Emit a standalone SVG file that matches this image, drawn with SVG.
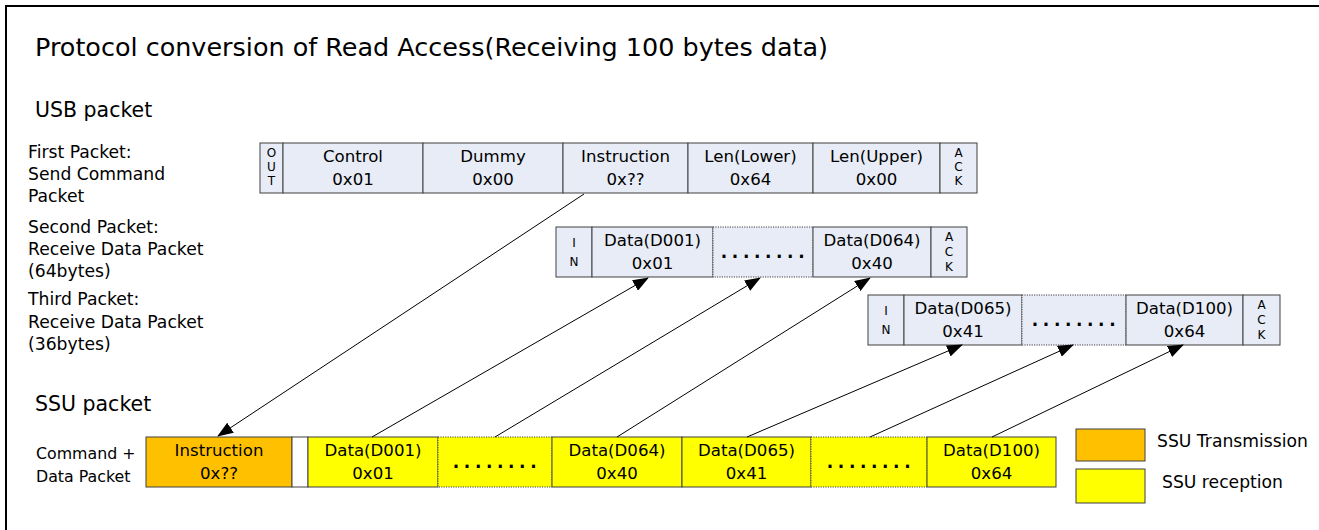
<svg xmlns="http://www.w3.org/2000/svg" width="1319" height="530" viewBox="0 0 1319 530">
<style>
  text { font-family: "DejaVu Sans", "Liberation Sans", sans-serif; fill: #000; }
  .title { font-size: 25px; }
  .head { font-size: 20.5px; }
  .lbl { font-size: 17.2px; }
  .lbl2 { font-size: 15.8px; }
  .leg { font-size: 17.2px; }
  .cell { font-size: 16.6px; text-anchor: middle; }
  .vt { font-size: 12px; text-anchor: middle; }
  .dots { font-size: 17px; font-weight: bold; text-anchor: middle; letter-spacing: 4.6px; }
  .usb { fill: #E7ECF7; stroke: #404040; stroke-width: 1; }
  .usbd { fill: #E7ECF7; stroke: #404040; stroke-width: 1; stroke-dasharray: 1.2 1.2; }
  .tx { fill: #FFC000; stroke: #404040; stroke-width: 1; }
  .rx { fill: #FFFF00; stroke: #404040; stroke-width: 1; }
  .rxd { fill: #FFFF00; stroke: #404040; stroke-width: 1; stroke-dasharray: 1.2 1.2; }
  .gap { fill: #FFFFFF; stroke: #404040; stroke-width: 1; }
  .conn line { stroke: #000; stroke-width: 1; marker-end: url(#arr); }
</style>
<defs>
  <marker id="arr" markerUnits="userSpaceOnUse" markerWidth="16" markerHeight="12" refX="15" refY="6" orient="auto">
    <path d="M0,0 L16,6 L0,12 Z" fill="#000"/>
  </marker>
</defs>
<rect x="0" y="0" width="1319" height="530" fill="#fff"/>
<path d="M6,531 V6 H1320" fill="none" stroke="#000" stroke-width="2"/>

<text class="title" x="35" y="56" textLength="793" lengthAdjust="spacingAndGlyphs">Protocol conversion of Read Access(Receiving 100 bytes data)</text>
<text class="head" x="35" y="117">USB packet</text>
<text class="head" x="35" y="411">SSU packet</text>

<g id="label-first">
  <text class="lbl" x="28" y="158">First Packet:</text>
  <text class="lbl" x="28" y="180">Send Command</text>
  <text class="lbl" x="28" y="202">Packet</text>
</g>
<g id="label-second">
  <text class="lbl" x="28" y="233">Second Packet:</text>
  <text class="lbl" x="28" y="255">Receive Data Packet</text>
  <text class="lbl" x="28" y="277">(64bytes)</text>
</g>
<g id="label-third">
  <text class="lbl" x="28" y="305">Third Packet:</text>
  <text class="lbl" x="28" y="328">Receive Data Packet</text>
  <text class="lbl" x="28" y="350">(36bytes)</text>
</g>
<g id="label-ssu">
  <text class="lbl2" x="36" y="459">Command +</text>
  <text class="lbl2" x="36" y="482">Data Packet</text>
</g>

<g id="first-packet">
  <rect class="usb" x="260" y="143" width="23" height="50"/>
  <text class="vt" x="271.5" y="157">O</text>
  <text class="vt" x="271.5" y="171">U</text>
  <text class="vt" x="271.5" y="185">T</text>
  <rect class="usb" x="283" y="143" width="140" height="50"/>
  <text class="cell" x="353" y="162">Control</text>
  <text class="cell" x="353" y="185">0x01</text>
  <rect class="usb" x="423" y="143" width="140" height="50"/>
  <text class="cell" x="493" y="162">Dummy</text>
  <text class="cell" x="493" y="185">0x00</text>
  <rect class="usb" x="563" y="143" width="125" height="50"/>
  <text class="cell" x="625.5" y="162">Instruction</text>
  <text class="cell" x="625.5" y="185">0x??</text>
  <rect class="usb" x="688" y="143" width="125" height="50"/>
  <text class="cell" x="750.5" y="162">Len(Lower)</text>
  <text class="cell" x="750.5" y="185">0x64</text>
  <rect class="usb" x="813" y="143" width="127" height="50"/>
  <text class="cell" x="876.5" y="162">Len(Upper)</text>
  <text class="cell" x="876.5" y="185">0x00</text>
  <rect class="usb" x="940" y="143" width="37" height="50"/>
  <text class="vt" x="958.5" y="157">A</text>
  <text class="vt" x="958.5" y="171">C</text>
  <text class="vt" x="958.5" y="185">K</text>
</g>

<g id="second-packet">
  <rect class="usb" x="556" y="227" width="36" height="50"/>
  <text class="vt" x="574" y="247">I</text>
  <text class="vt" x="574" y="266">N</text>
  <rect class="usb" x="592" y="227" width="121" height="50"/>
  <text class="cell" x="652.5" y="246">Data(D001)</text>
  <text class="cell" x="652.5" y="269">0x01</text>
  <rect class="usbd" x="713" y="227" width="100" height="50"/>
  <text class="dots" x="765" y="258">........</text>
  <rect class="usb" x="813" y="227" width="118" height="50"/>
  <text class="cell" x="872" y="246">Data(D064)</text>
  <text class="cell" x="872" y="269">0x40</text>
  <rect class="usb" x="931" y="227" width="36" height="50"/>
  <text class="vt" x="949" y="241">A</text>
  <text class="vt" x="949" y="256">C</text>
  <text class="vt" x="949" y="271">K</text>
</g>

<g id="third-packet">
  <rect class="usb" x="868" y="295" width="36" height="50"/>
  <text class="vt" x="886" y="315">I</text>
  <text class="vt" x="886" y="334">N</text>
  <rect class="usb" x="904" y="295" width="118" height="50"/>
  <text class="cell" x="963" y="314">Data(D065)</text>
  <text class="cell" x="963" y="337">0x41</text>
  <rect class="usbd" x="1022" y="295" width="104" height="50"/>
  <text class="dots" x="1076" y="326">........</text>
  <rect class="usb" x="1126" y="295" width="117" height="50"/>
  <text class="cell" x="1184.5" y="314">Data(D100)</text>
  <text class="cell" x="1184.5" y="337">0x64</text>
  <rect class="usb" x="1243" y="295" width="37" height="50"/>
  <text class="vt" x="1261.5" y="309">A</text>
  <text class="vt" x="1261.5" y="324">C</text>
  <text class="vt" x="1261.5" y="339">K</text>
</g>

<g id="ssu-packet">
  <rect class="tx" x="146" y="437" width="146" height="50"/>
  <text class="cell" x="219" y="456">Instruction</text>
  <text class="cell" x="219" y="479">0x??</text>
  <rect class="gap" x="292" y="437" width="16" height="50"/>
  <rect class="rx" x="308" y="437" width="130" height="50"/>
  <text class="cell" x="373" y="456">Data(D001)</text>
  <text class="cell" x="373" y="479">0x01</text>
  <rect class="rxd" x="438" y="437" width="114" height="50"/>
  <text class="dots" x="497" y="468">........</text>
  <rect class="rx" x="552" y="437" width="130" height="50"/>
  <text class="cell" x="617" y="456">Data(D064)</text>
  <text class="cell" x="617" y="479">0x40</text>
  <rect class="rx" x="682" y="437" width="129" height="50"/>
  <text class="cell" x="746.5" y="456">Data(D065)</text>
  <text class="cell" x="746.5" y="479">0x41</text>
  <rect class="rxd" x="811" y="437" width="116" height="50"/>
  <text class="dots" x="871" y="468">........</text>
  <rect class="rx" x="927" y="437" width="129" height="50"/>
  <text class="cell" x="991.5" y="456">Data(D100)</text>
  <text class="cell" x="991.5" y="479">0x64</text>
</g>

<g id="legend">
  <rect class="tx" x="1076" y="429" width="69" height="32"/>
  <text class="leg" x="1157" y="447">SSU Transmission</text>
  <rect class="rx" x="1076" y="469" width="69" height="34"/>
  <text class="leg" x="1162" y="488">SSU reception</text>
</g>

<g id="connectors" class="conn">
  <line x1="584" y1="194" x2="218" y2="436"/>
  <line x1="372" y1="437" x2="648" y2="278"/>
  <line x1="495" y1="437" x2="760" y2="278"/>
  <line x1="617" y1="437" x2="870" y2="278"/>
  <line x1="747" y1="437" x2="962" y2="345"/>
  <line x1="870" y1="437" x2="1073" y2="345"/>
  <line x1="992" y1="437" x2="1183" y2="345"/>
</g>
</svg>
